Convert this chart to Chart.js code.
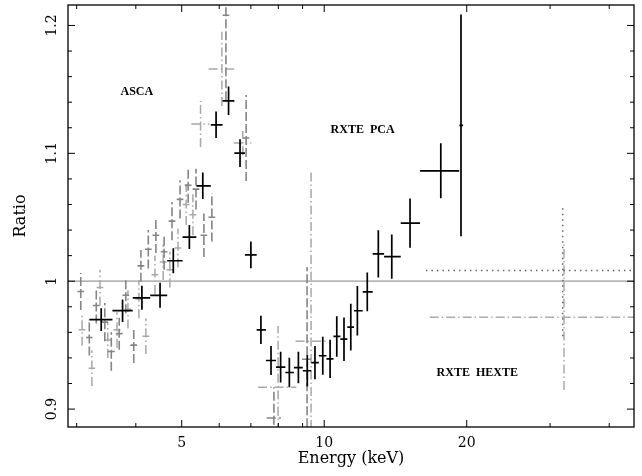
<!DOCTYPE html>
<html>
<head>
<meta charset="utf-8">
<script src="https://cdn.jsdelivr.net/npm/chart.js@4.4.0/dist/chart.umd.min.js"></script>
<style>
  html, body { margin: 0; padding: 0; background: #fff; }
  canvas { display: block; }
</style>
</head>
<body>
<canvas id="chart" width="642" height="476"></canvas>
<script>
// axis ranges
const xMin = 2.876, xMax = 45.12;
const yMin = 0.886, yMax = 1.216;

// tick positions / labels
const xMajor = [5, 10, 20];
const xMajorLabels = ['5', '10', '20'];
const xMinor = [3, 4, 6, 7, 8, 9, 30, 40];
const yMajor = [0.9, 1.0, 1.1, 1.2];
const yMajorLabels = ['0.9', '1', '1.1', '1.2'];
const yMinor = [0.92, 0.94, 0.96, 0.98, 1.02, 1.04, 1.06, 1.08, 1.12, 1.14, 1.16, 1.18];

// RXTE PCA (black crosses): bin centre, bin edges, ratio, error
const pcaE  = [3.38, 3.75, 4.12, 4.50, 4.80, 5.19, 5.54, 5.91, 6.28, 6.64, 7.00, 7.35, 7.72, 8.09, 8.44, 8.82, 9.21, 9.56, 9.93, 10.29, 10.63, 11.01, 11.38, 11.75, 12.33, 13.01, 13.89, 15.18, 17.63, 19.45];
const pcaLo = [3.19, 3.57, 3.94, 4.29, 4.66, 5.02, 5.37, 5.76, 6.10, 6.46, 6.80, 7.20, 7.53, 7.91, 8.28, 8.63, 9.01, 9.39, 9.74, 10.11, 10.46, 10.82, 11.19, 11.56, 12.06, 12.66, 13.38, 14.51, 15.94, 19.29];
const pcaHi = [3.57, 3.94, 4.29, 4.66, 5.02, 5.37, 5.76, 6.10, 6.46, 6.80, 7.20, 7.53, 7.91, 8.28, 8.63, 9.01, 9.39, 9.74, 10.11, 10.46, 10.82, 11.19, 11.56, 12.06, 12.66, 13.38, 14.51, 15.94, 19.29, 19.65];
const pcaR  = [0.970, 0.977, 0.987, 0.989, 1.016, 1.0345, 1.0746, 1.1223, 1.1411, 1.1002, 1.0206, 0.962, 0.938, 0.9328, 0.9286, 0.9325, 0.930, 0.9364, 0.9417, 0.9393, 0.9568, 0.9547, 0.9641, 0.9769, 0.9917, 1.0214, 1.0193, 1.0454, 1.0863, 1.1218];
const pcaErr = [0.0089, 0.0088, 0.0094, 0.0098, 0.0098, 0.0094, 0.0104, 0.0104, 0.0111, 0.0108, 0.0104, 0.011, 0.0113, 0.012, 0.0115, 0.0123, 0.0124, 0.013, 0.0149, 0.0149, 0.0159, 0.017, 0.0182, 0.0193, 0.0152, 0.0185, 0.0173, 0.0192, 0.0215, 0.0867];

// ASCA detector 1 (dashed grey)
const ascaAE   = [3.06, 3.19, 3.30, 3.44, 3.55, 3.69, 3.81, 3.96, 4.10, 4.25, 4.41, 4.59, 4.77, 4.96, 5.16, 5.36, 5.57, 5.79, 6.20, 6.84, 7.83, 9.20];
const ascaADE  = [0.05, 0.05, 0.055, 0.055, 0.06, 0.06, 0.062, 0.065, 0.068, 0.07, 0.072, 0.075, 0.078, 0.08, 0.085, 0.088, 0.09, 0.095, 0.10, 0.11, 0.27, 0.22];
const ascaAR   = [0.992, 0.956, 0.981, 0.968, 0.945, 0.959, 0.989, 0.950, 1.012, 1.025, 1.036, 1.023, 1.047, 1.064, 1.075, 1.072, 1.036, 1.050, 1.208, 1.112, 0.893, 0.939];
const ascaAErr = [0.0145, 0.014, 0.014, 0.015, 0.015, 0.0125, 0.014, 0.014, 0.0125, 0.015, 0.014, 0.014, 0.015, 0.015, 0.0137, 0.016, 0.017, 0.019, 0.0665, 0.0336, 0.024, 0.072];

// ASCA detector 2 (dash-dot light grey)
const ascaBE   = [3.08, 3.23, 3.36, 3.49, 3.65, 3.85, 4.06, 4.20, 4.39, 4.57, 4.72, 4.91, 5.11, 5.28, 5.48, 6.08, 6.73, 7.99, 9.38];
const ascaBDE  = [0.05, 0.053, 0.055, 0.057, 0.06, 0.063, 0.066, 0.07, 0.072, 0.075, 0.078, 0.08, 0.085, 0.088, 0.24, 0.38, 0.29, 0.74, 0.68];
const ascaBR   = [0.962, 0.932, 0.995, 0.954, 0.962, 0.978, 0.986, 0.957, 1.005, 1.015, 1.009, 1.026, 1.060, 1.052, 1.123, 1.166, 1.108, 0.917, 0.953];
const ascaBErr = [0.0125, 0.014, 0.014, 0.014, 0.014, 0.015, 0.015, 0.014, 0.015, 0.014, 0.014, 0.015, 0.016, 0.016, 0.018, 0.029, 0.0094, 0.048, 0.133];

// RXTE HEXTE (two clusters: dotted, dash-dot)
const hexteE   = [31.9, 32.1];
const hexteLo  = [16.4, 16.7];
const hexteHi  = [62, 62];
const hexteR   = [1.0084, 0.9719];
const hexteErr = [0.0514, 0.0569];

// unity line
const refX = [xMin, xMax];
const refY = [1, 1];

// text labels inside the plot (data coordinates of text centre)
const noteText = ['ASCA', 'RXTE  PCA', 'RXTE  HEXTE'];
const noteE = [4.02, 12.05, 21.05];
const noteR = [1.1489, 1.1194, 0.9294];

// each cross = horizontal bar, gap, vertical bar, gap
function errorBars(xc, xlo, xhi, y, yerr) {
    const pts = [];
    for (let i = 0; i < xc.length; i++) {
        pts.push({ x: xlo[i], y: y[i] }, { x: xhi[i], y: y[i] }, { x: xc[i], y: null });
        pts.push({ x: xc[i], y: y[i] - yerr[i] }, { x: xc[i], y: y[i] + yerr[i] }, { x: xc[i], y: null });
    }
    return pts;
}

const ascaALo = ascaAE.map((e, i) => e - ascaADE[i]);
const ascaAHi = ascaAE.map((e, i) => e + ascaADE[i]);
const ascaBLo = ascaBE.map((e, i) => e - ascaBDE[i]);
const ascaBHi = ascaBE.map((e, i) => e + ascaBDE[i]);

function lineSet(data, color, width, dash) {
    return {
        data: data,
        borderColor: color,
        borderWidth: width,
        borderDash: dash,
        pointRadius: 0,
        spanGaps: false,
        tension: 0,
        fill: false,
        clip: 0
    };
}

const pick = (arr, i) => arr.slice(i, i + 1);

// frame, inward ticks, tick labels, titles, notes
const framePlugin = {
    id: 'frame',
    afterDraw(chart) {
        const { ctx, chartArea: a, scales: { x, y } } = chart;
        ctx.save();
        ctx.strokeStyle = '#000';
        ctx.lineWidth = 1.3;
        ctx.strokeRect(a.left, a.top, a.right - a.left, a.bottom - a.top);

        ctx.lineWidth = 1;
        ctx.beginPath();
        const xt = (v, len) => {
            const p = x.getPixelForValue(v);
            ctx.moveTo(p, a.bottom); ctx.lineTo(p, a.bottom - len);
            ctx.moveTo(p, a.top); ctx.lineTo(p, a.top + len);
        };
        const yt = (v, len) => {
            const p = y.getPixelForValue(v);
            ctx.moveTo(a.left, p); ctx.lineTo(a.left + len, p);
            ctx.moveTo(a.right, p); ctx.lineTo(a.right - len, p);
        };
        xMajor.forEach(v => xt(v, 7));
        xMinor.forEach(v => xt(v, 4));
        yMajor.forEach(v => yt(v, 7));
        yMinor.forEach(v => yt(v, 4));
        ctx.stroke();

        ctx.fillStyle = '#000';
        ctx.font = '14px "DejaVu Serif"';
        ctx.textAlign = 'center';
        ctx.textBaseline = 'alphabetic';
        xMajor.forEach((v, i) => {
            ctx.fillText(xMajorLabels[i], x.getPixelForValue(v), 447);
        });
        yMajor.forEach((v, i) => {
            ctx.save();
            ctx.translate(56, y.getPixelForValue(v));
            ctx.rotate(-Math.PI / 2);
            ctx.fillText(yMajorLabels[i], 0, 0);
            ctx.restore();
        });

        ctx.font = '16px "DejaVu Serif"';
        ctx.fillText('Energy (keV)', (a.left + a.right) / 2, 463);
        ctx.save();
        ctx.translate(25, (a.top + a.bottom) / 2);
        ctx.rotate(-Math.PI / 2);
        ctx.fillText('Ratio', 0, 0);
        ctx.restore();

        ctx.font = 'bold 12px "Liberation Serif"';
        noteText.forEach((t, i) => {
            ctx.fillText(t, x.getPixelForValue(noteE[i]), y.getPixelForValue(noteR[i]) + 4);
        });
        ctx.restore();
    }
};

new Chart(document.getElementById('chart').getContext('2d'), {
    type: 'line',
    data: {
        datasets: [
            lineSet(errorBars(pcaE, pcaLo, pcaHi, pcaR, pcaErr), '#000000', 1.7, []),
            lineSet(errorBars(pick(hexteE, 0), pick(hexteLo, 0), pick(hexteHi, 0), pick(hexteR, 0), pick(hexteErr, 0)), '#666666', 1.5, [1.5, 4]),
            lineSet(errorBars(pick(hexteE, 1), pick(hexteLo, 1), pick(hexteHi, 1), pick(hexteR, 1), pick(hexteErr, 1)), '#acacac', 1.5, [9, 3, 1.5, 3]),
            lineSet(errorBars(ascaAE, ascaALo, ascaAHi, ascaAR, ascaAErr), '#858585', 1.6, [9, 3]),
            lineSet(errorBars(ascaBE, ascaBLo, ascaBHi, ascaBR, ascaBErr), '#a8a8a8', 1.5, [9, 3, 1.5, 3]),
            lineSet(refX.map((v, i) => ({ x: v, y: refY[i] })), '#9a9a9a', 1.2, [])
        ]
    },
    options: {
        responsive: false,
        animation: false,
        events: [],
        layout: { padding: { left: 68, right: 8, top: 5, bottom: 49 } },
        plugins: { legend: { display: false }, tooltip: { enabled: false } },
        scales: {
            x: { type: 'logarithmic', min: xMin, max: xMax, display: false },
            y: { type: 'linear', min: yMin, max: yMax, display: false }
        }
    },
    plugins: [framePlugin]
});
</script>
</body>
</html>
